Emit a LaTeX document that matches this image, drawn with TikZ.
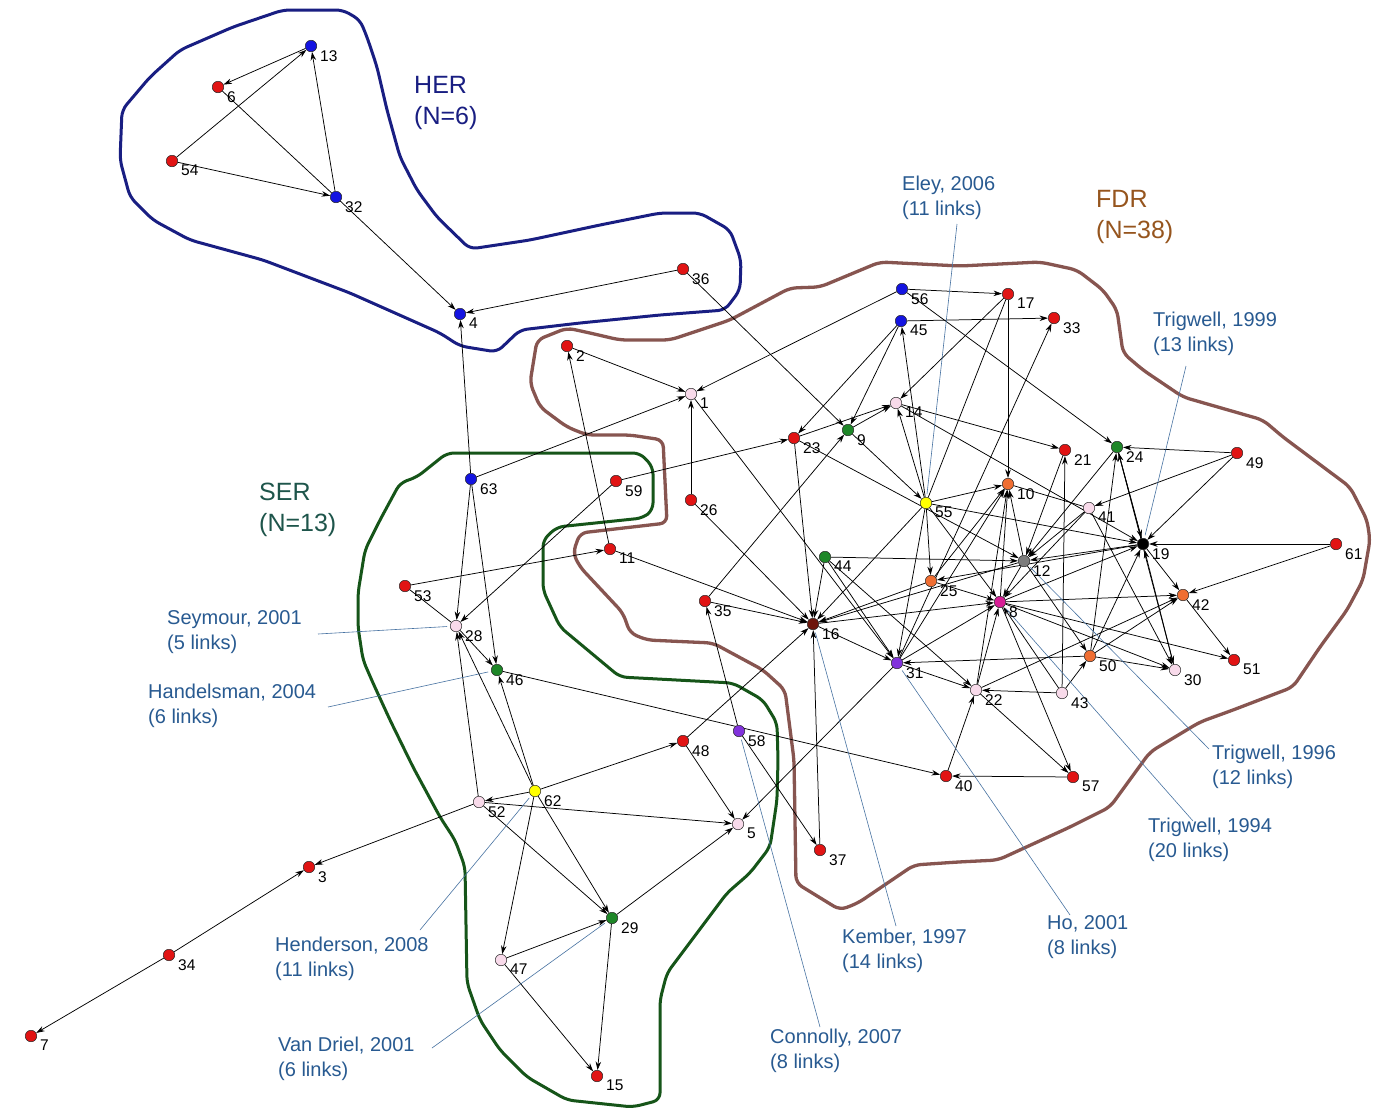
\documentclass[tikz,border=0pt]{standalone}
\usepackage{fontspec}
\setmainfont{Liberation Sans}
\usetikzlibrary{arrows.meta}
\pgfdeclarelayer{paper}
\pgfdeclarelayer{hull}
\pgfdeclarelayer{links}
\pgfsetlayers{paper,hull,links,main}

\definecolor{nred}{RGB}{225,20,20}
\definecolor{nblue}{RGB}{20,20,225}
\definecolor{npink}{RGB}{248,218,234}
\definecolor{ngreen}{RGB}{30,135,40}
\definecolor{nyellow}{RGB}{255,255,0}
\definecolor{norange}{RGB}{240,110,50}
\definecolor{ngray}{RGB}{125,125,125}
\definecolor{nmagenta}{RGB}{215,30,150}
\definecolor{npurple}{RGB}{130,50,220}
\definecolor{nmaroon}{RGB}{110,22,12}
\definecolor{herc}{RGB}{25,30,130}
\definecolor{serc}{RGB}{22,85,25}
\definecolor{fdrc}{RGB}{135,85,80}
\definecolor{callc}{RGB}{40,90,145}
\definecolor{sertext}{RGB}{30,85,75}
\definecolor{fdrtext}{RGB}{150,85,30}

\tikzset{
  v/.style={circle, draw=black!85, line width=0.5pt, inner sep=0pt, minimum size=11.5pt},
  num/.style={font=\fontsize{15.5}{15.5}\selectfont, inner sep=0pt, anchor=north west},
  edge/.style={draw=black, line width=0.75pt, -{Stealth[length=8.5pt,width=5.5pt]}},
  link/.style={draw=black, line width=0.75pt},
  callout/.style={draw=callc!85, line width=0.6pt, shorten >=3pt},
  ctext/.style={text=callc, font=\fontsize{20}{25}\selectfont, align=left, anchor=north west, inner sep=0pt},
  gtext/.style={font=\fontsize{25}{31}\selectfont, align=left, anchor=north west, inner sep=0pt},
  hull/.style={line width=3pt, rounded corners=7pt, line join=round}
}

% a vertex with its number set to the lower right
\newcommand\vx[4]{\node[v,fill=#4] (n#1) at (#2,#3) {};
  \node[num] (t#1) at (#2+9,#3+4) {#1};}

\begin{document}
\begin{tikzpicture}[x=1pt,y=-1pt]
\useasboundingbox (0,0) rectangle (1378,1109);
\begin{pgfonlayer}{paper}
\fill[white] (0,0) rectangle (1378,1109);
\end{pgfonlayer}

% ---- cluster outlines ----
\begin{pgfonlayer}{hull}
\draw[hull, draw=herc] (470,249) -- (530,240) -- (600,225) -- (660,213) -- (700,213) -- (730,230)
  -- (741,260) -- (740,290) -- (725,310) -- (660,315) -- (580,323) -- (520,330) -- (497,352)
  -- (460,346) -- (440,333) -- (350,293) -- (263,260) -- (190,240) -- (153,220) -- (130,197)
  -- (120,160) -- (122,110) -- (150,77) -- (180,50) -- (233,27) -- (283,10) -- (343,10)
  -- (360,20) -- (367,37) -- (377,67) -- (387,110) -- (400,157) -- (417,190) -- (437,217) -- cycle;
\draw[hull, draw=fdrc, line width=3.3pt] (530,383) -- (537,340) -- (567,328) -- (590,333) -- (620,340)
  -- (670,340) -- (730,320) -- (790,288) -- (820,287) -- (880,262) -- (960,266) -- (1040,262)
  -- (1077,270) -- (1103,290) -- (1117,310) -- (1123,353) -- (1143,370) -- (1183,397)
  -- (1263,420) -- (1283,437) -- (1350,487) -- (1367,520) -- (1370,540) -- (1363,580)
  -- (1347,610) -- (1320,647) -- (1293,687) -- (1233,710) -- (1200,722) -- (1170,740)
  -- (1150,752) -- (1110,807) -- (1070,827) -- (998,860) -- (958,862) -- (914,865)
  -- (858,903) -- (840,910) -- (796,883) -- (794,760) -- (785,690) -- (763,670) -- (713,643)
  -- (647,640) -- (630,633) -- (623,613) -- (580,567) -- (573,553) -- (580,533) -- (667,523)
  -- (663,440) -- (630,435) -- (587,435) -- (567,427) -- (540,407) -- cycle;
\draw[hull, draw=serc] (400,483) -- (417,477) -- (447,453) -- (640,453) -- (653,467) -- (653,510)
  -- (643,518) -- (557,527) -- (543,540) -- (543,590) -- (560,627) -- (620,677) -- (733,683)
  -- (763,700) -- (777,723) -- (778,760) -- (777,800) -- (770,847) -- (750,873) -- (727,893)
  -- (697,933) -- (667,973) -- (660,1000) -- (660,1100) -- (633,1107) -- (567,1100)
  -- (527,1077) -- (500,1050) -- (480,1020) -- (467,983) -- (465,867) -- (455,840)
  -- (440,817) -- (413,767) -- (390,720) -- (373,683) -- (363,660) -- (358,627) -- (358,593)
  -- (365,550) -- (380,520) -- cycle;
\end{pgfonlayer}

% ---- vertices ----
\vx{13}{311}{46}{nblue}
\vx{6}{218}{87}{nred}
\vx{54}{172}{161}{nred}
\vx{32}{336}{197}{nblue}
\vx{4}{460}{314}{nblue}
\vx{36}{683}{269}{nred}
\vx{2}{567}{346}{nred}
\vx{1}{691}{394}{npink}
\vx{63}{471}{479}{nblue}
\vx{59}{616}{481}{nred}
\vx{26}{691}{500}{nred}
\vx{11}{610}{549}{nred}
\vx{53}{405}{586}{nred}
\vx{28}{456}{626}{npink}
\vx{46}{497}{670}{ngreen}
\vx{35}{705}{601}{nred}
\vx{16}{813}{624}{nmaroon}
\vx{58}{739}{731}{npurple}
\vx{48}{683}{741}{nred}
\vx{62}{535}{791}{nyellow}
\vx{52}{479}{802}{npink}
\vx{5}{738}{824}{npink}
\vx{37}{820}{850}{nred}
\vx{29}{612}{918}{ngreen}
\vx{47}{501}{960}{npink}
\vx{15}{597}{1076}{nred}
\vx{3}{309}{867}{nred}
\vx{34}{169}{955}{nred}
\vx{7}{31}{1036}{nred}
\vx{56}{902}{289}{nblue}
\vx{45}{901}{321}{nblue}
\vx{17}{1008}{294}{nred}
\vx{33}{1054}{318}{nred}
\vx{14}{896}{403}{npink}
\vx{9}{848}{430}{ngreen}
\vx{23}{794}{438}{nred}
\vx{21}{1065}{450}{nred}
\vx{24}{1117}{447}{ngreen}
\vx{49}{1237}{453}{nred}
\vx{55}{926}{503}{nyellow}
\vx{10}{1008}{484}{norange}
\vx{41}{1089}{508}{npink}
\vx{19}{1143}{544}{black}
\vx{61}{1336}{544}{nred}
\vx{44}{825}{557}{ngreen}
\vx{25}{931}{581}{norange}
\vx{12}{1024}{561}{ngray}
\vx{8}{1000}{602}{nmagenta}
\vx{42}{1183}{595}{norange}
\vx{31}{897}{663}{npurple}
\vx{50}{1090}{656}{norange}
\vx{30}{1175}{670}{npink}
\vx{51}{1234}{660}{nred}
\vx{22}{976}{690}{npink}
\vx{43}{1062}{693}{npink}
\vx{40}{946}{776}{nred}
\vx{57}{1073}{777}{nred}

% ---- citation links ----
\begin{pgfonlayer}{links}
\foreach \a/\b in {13/6, 54/13, 32/13, 54/32, 32/4, 36/4, 63/4,
  2/1, 56/1, 63/1, 26/1, 11/2, 36/9, 35/9, 1/31,
  63/28, 63/46, 59/28, 53/11, 28/46, 52/28, 62/28, 62/46, 62/48, 62/52, 52/5,
  62/47, 62/29, 52/29, 47/29, 47/15, 29/15, 29/5, 48/5, 58/37, 37/16, 48/16,
  31/5, 46/40, 58/35, 35/16, 52/3, 34/3, 34/7, 26/16, 11/16,
  56/17, 56/24, 45/33, 45/23, 45/9, 55/45, 55/14, 55/10, 55/25, 55/31, 55/19,
  55/8, 55/16, 17/14, 17/10, 9/14, 9/55, 23/14, 23/16, 23/12, 59/23, 14/21,
  14/19, 43/21, 43/22, 43/8, 43/50, 49/24, 49/41, 49/19, 24/19, 19/24, 24/30,
  30/19, 41/30, 41/12, 41/8, 24/12, 19/12, 21/12, 44/12, 44/16, 44/31, 44/22,
  61/19, 61/42, 8/42, 50/42, 22/42, 19/42, 42/51, 8/51, 8/30, 50/30, 25/10,
  31/10, 12/10, 8/10, 22/8, 22/10, 40/22, 57/40, 22/57, 8/57, 31/22, 50/31,
  50/19, 50/24, 31/8, 31/33, 16/8, 25/16, 16/31, 25/8, 19/25, 12/8, 8/19,
  12/16, 12/50}
  \draw[edge] (n\a) -- (n\b);
\foreach \a/\b in {6/32, 53/28, 55/17, 10/41}
  \draw[link] (n\a) -- (n\b);
\end{pgfonlayer}

% ---- cluster names ----
\node[gtext, text=herc] (gHER) at (414,76) {HER\\(N=6)};
\node[gtext, text=sertext] (gSER) at (259,483) {SER\\(N=13)};
\node[gtext, text=fdrtext] (gFDR) at (1096,190) {FDR\\(N=38)};

% ---- most cited papers ----
\node[ctext] (cEley) at (902,176) {Eley, 2006\\(11 links)};
\node[ctext] (cTr99) at (1153,312) {Trigwell, 1999\\(13 links)};
\node[ctext] (cTr96) at (1212,745) {Trigwell, 1996\\(12 links)};
\node[ctext] (cTr94) at (1148,818) {Trigwell, 1994\\(20 links)};
\node[ctext] (cHo) at (1047,915) {Ho, 2001\\(8 links)};
\node[ctext] (cKem) at (842,929) {Kember, 1997\\(14 links)};
\node[ctext] (cCon) at (770,1029) {Connolly, 2007\\(8 links)};
\node[ctext] (cSey) at (167,610) {Seymour, 2001\\(5 links)};
\node[ctext] (cHan) at (148,684) {Handelsman, 2004\\(6 links)};
\node[ctext] (cHen) at (275,937) {Henderson, 2008\\(11 links)};
\node[ctext] (cVan) at (278,1037) {Van Driel, 2001\\(6 links)};

\coordinate (eEley) at (957,224);
\coordinate (eTr99) at (1186,366);
\coordinate (eTr96) at (1209,749);
\coordinate (eTr94) at (1193,821);
\coordinate (eHo) at (1070,915);
\coordinate (eKem) at (896,926);
\coordinate (eCon) at (820,1027);
\coordinate (eSey) at (318,634);
\coordinate (eHan) at (328,707);
\coordinate (eHen) at (420,930);
\coordinate (eVan) at (432,1048);

\begin{pgfonlayer}{links}
\draw[callout] (eEley) -- (n55);
\draw[callout] (eTr99) -- (n19);
\draw[callout] (eTr96) -- (n12);
\draw[callout] (eTr94) -- (n8);
\draw[callout] (eHo) -- (n31);
\draw[callout] (eKem) -- (n16);
\draw[callout] (eCon) -- (n58);
\draw[callout] (eSey) -- (n28);
\draw[callout] (eHan) -- (n46);
\draw[callout] (eHen) -- (n62);
\draw[callout] (eVan) -- (n29);
\end{pgfonlayer}
\end{tikzpicture}
\end{document}
